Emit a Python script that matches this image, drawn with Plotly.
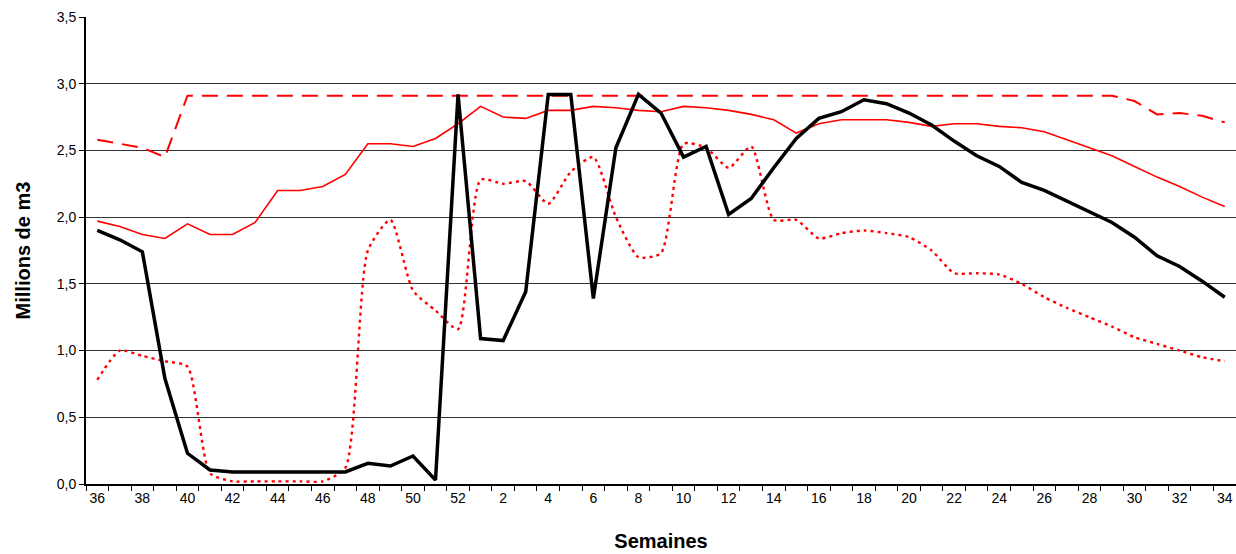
import plotly.graph_objects as go

# semaines (de la 36 à la 52, puis 1 à 34)
semaines = [str(s) for s in list(range(36, 53)) + list(range(1, 35))]
etiquettes = [s if i % 2 == 0 else "" for i, s in enumerate(semaines)]

# courbe noire épaisse
volume = [1.90, 1.83, 1.74, 0.79, 0.23, 0.105, 0.09, 0.09, 0.09, 0.09,
          0.09, 0.09, 0.155, 0.135, 0.21, 0.03, 2.92, 1.09, 1.075, 1.44,
          2.92, 2.92, 1.39, 2.52, 2.92, 2.78, 2.45, 2.53, 2.02, 2.14,
          2.37, 2.59, 2.74, 2.79, 2.88, 2.85, 2.78, 2.69, 2.57, 2.46,
          2.38, 2.26, 2.20, 2.12, 2.04, 1.96, 1.85, 1.71, 1.63, 1.52, 1.40]

# rouge continu
moyenne = [1.97, 1.93, 1.87, 1.84, 1.95, 1.87, 1.87, 1.96, 2.20, 2.20,
           2.23, 2.32, 2.55, 2.55, 2.53, 2.59, 2.70, 2.83, 2.75, 2.74,
           2.80, 2.80, 2.83, 2.82, 2.80, 2.79, 2.83, 2.82, 2.80, 2.77,
           2.73, 2.63, 2.70, 2.73, 2.73, 2.73, 2.71, 2.68, 2.70, 2.70,
           2.68, 2.67, 2.64, 2.58, 2.52, 2.46, 2.38, 2.30, 2.23, 2.15, 2.08]

# rouge tirets
maximum = [2.58, 2.55, 2.52, 2.45, 2.91, 2.91, 2.91, 2.91, 2.91, 2.91,
           2.91, 2.91, 2.91, 2.91, 2.91, 2.91, 2.91, 2.91, 2.91, 2.91,
           2.91, 2.91, 2.91, 2.91, 2.91, 2.91, 2.91, 2.91, 2.91, 2.91,
           2.91, 2.91, 2.91, 2.91, 2.91, 2.91, 2.91, 2.91, 2.91, 2.91,
           2.91, 2.91, 2.91, 2.91, 2.91, 2.91, 2.87, 2.77, 2.78, 2.76, 2.71]

# rouge pointillé
minimum = [0.78, 1.00, 0.96, 0.92, 0.88, 0.08, 0.02, 0.02, 0.02, 0.02,
           0.02, 0.12, 1.75, 1.98, 1.45, 1.30, 1.16, 2.28, 2.25, 2.27,
           2.10, 2.34, 2.45, 2.00, 1.70, 1.73, 2.55, 2.52, 2.37, 2.53,
           1.98, 1.98, 1.84, 1.88, 1.90, 1.88, 1.85, 1.75, 1.58, 1.58,
           1.57, 1.50, 1.40, 1.32, 1.25, 1.18, 1.10, 1.05, 1.00, 0.95, 0.92]

fig = go.Figure()
fig.add_trace(go.Scatter(x=semaines, y=minimum, mode="lines",
                         line=dict(color="#FF0000", width=2.4, dash="3px,4px", shape="spline", smoothing=0.6)))
fig.add_trace(go.Scatter(x=semaines, y=maximum, mode="lines",
                         line=dict(color="#FF0000", width=2, dash="16px,9px")))
fig.add_trace(go.Scatter(x=semaines, y=moyenne, mode="lines",
                         line=dict(color="#FF0000", width=1.6)))
fig.add_trace(go.Scatter(x=semaines, y=volume, mode="lines",
                         line=dict(color="#000000", width=3.5)))

fig.update_layout(
    width=1236, height=554,
    paper_bgcolor="white", plot_bgcolor="white",
    showlegend=False,
    separators=", ",
    font=dict(family="Liberation Sans, Arial, sans-serif", color="#000", size=14),
    margin=dict(l=86, r=0, t=17, b=70),
)
fig.update_xaxes(
    type="category", tickmode="array", tickvals=semaines, ticktext=etiquettes,
    range=[-0.5, len(semaines) - 0.5],
    tickson="boundaries", ticks="outside", ticklen=5, tickcolor="#000",
    showline=True, linecolor="#000", linewidth=2, showgrid=False,
    tickangle=0, tickfont=dict(size=14), automargin=False,
    title=dict(text="<b>Semaines</b>", font=dict(size=20), standoff=29),
)
fig.update_yaxes(
    range=[0, 3.5], dtick=0.5, tickformat=".1f",
    ticks="outside", ticklen=5, tickcolor="#000",
    showline=True, linecolor="#000", linewidth=2,
    showgrid=True, gridcolor="#333", gridwidth=1, zeroline=False,
    tickfont=dict(size=14), automargin=False,
    title=dict(text="<b>Millions de m3</b>", font=dict(size=20), standoff=21),
)

# pas de marge de page, pas de barres de défilement, pas de barre d'outils
fig.write_html("out.html", config={"displayModeBar": False},
               post_script="document.body.style.margin='0';"
               "document.documentElement.style.overflow='hidden';")
